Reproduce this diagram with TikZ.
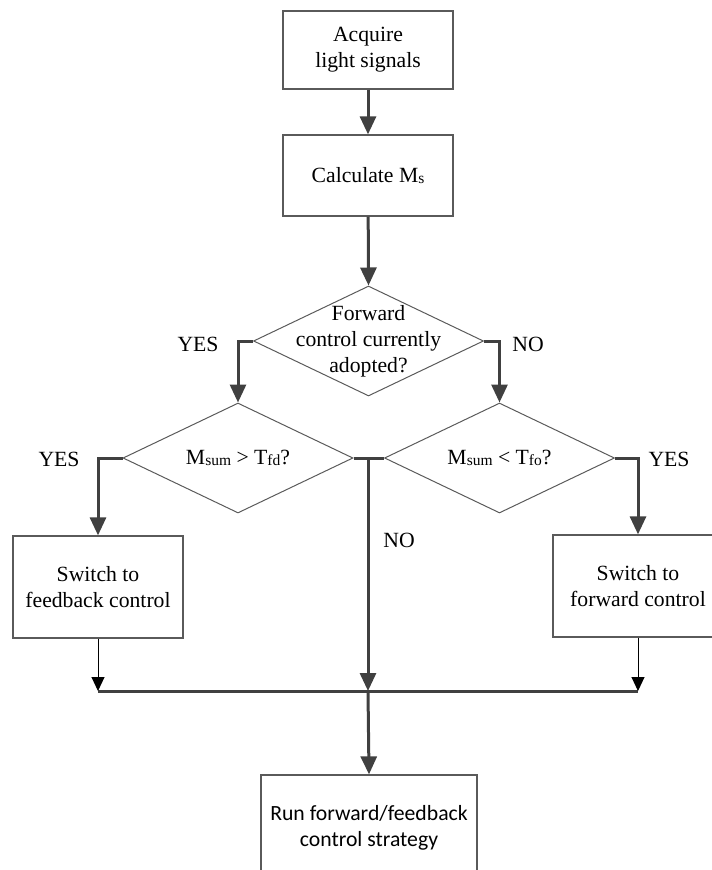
\documentclass[tikz,border=0pt]{standalone}
\usepackage{fontspec}
\setmainfont{Liberation Serif}
\newfontfamily\serifface{Liberation Serif}
\newfontfamily\uisans{Carlito}
\usetikzlibrary{arrows.meta,shapes.geometric}
\definecolor{flowgray}{HTML}{404040}
\definecolor{boxgray}{HTML}{5A5A5A}
% smaller letters set after a capital, as in M_sum or T_fd
\newcommand{\subtxt}[1]{\raisebox{-0.5pt}{\fontsize{15.5}{18}\selectfont #1}}
\begin{document}
\begin{tikzpicture}[x=1pt,y=-1pt,
  serif text/.style={font=\serifface\fontsize{21.7}{26}\selectfont},
  sans text/.style={font=\uisans\fontsize{21.7}{26}\selectfont},
  procbox/.style={draw=boxgray,line width=1.3pt,rectangle,minimum width=170pt,align=center,inner sep=0pt,serif text},
  decision/.style={draw=boxgray,line width=1pt,diamond,minimum width=230pt,minimum height=110pt,inner sep=0pt},
  flow/.style={draw=flowgray,line width=3pt,-{Triangle[length=18pt,width=16pt]}},
  bus/.style={draw=flowgray,line width=3pt},
  feed/.style={draw=black,line width=1pt,-{Triangle[length=14pt,width=13pt]}},
  tag/.style={inner sep=0pt,serif text}]
\useasboundingbox (0,0) rectangle (712,870);

% process steps
\node[procbox,minimum height=78pt] (acq) at (368,50) {Acquire\\light signals};
\node[procbox,minimum height=81pt] (calc) at (368,175.5) {Calculate M\subtxt{s}};

% decisions
\node[decision] (d1) at (368.5,341) {};
\node[tag,align=center] (d1t) at (368.5,341) {Forward\\control currently\\adopted?};
\node[decision] (d2) at (238,458) {};
\node[tag] (d2t) at (238,458) {M\subtxt{sum} > T\subtxt{fd}?};
\node[decision] (d3) at (499.5,458) {};
\node[tag] (d3t) at (499.5,458) {M\subtxt{sum} < T\subtxt{fo}?};

% switching actions
\node[procbox,minimum height=102pt] (fb) at (98,587) {Switch to\\feedback control};
\node[procbox,minimum height=102pt] (fw) at (638,586) {Switch to\\forward control};

% final step
\node[procbox,minimum width=216pt,minimum height=106pt,sans text] (run) at (369,828) {Run forward/feedback\\control strategy};

% junction points
\coordinate (nj) at (368,458);
\coordinate (mL) at (98,691);
\coordinate (mC) at (368,691);
\coordinate (mR) at (638,691);

% connectors
\draw[flow] (acq) -- (calc);
\draw[flow] (calc) -- (d1.north);
\draw[flow] (d1.west) -| (d2.north);
\draw[flow] (d1.east) -| (d3.north);
\draw[flow] (d2.west) -| (fb.north);
\draw[flow] (d3.east) -| (fw.north);
\draw[bus] (d2.east) -- (d3.west);
\draw[flow] (nj) -- (mC);
\draw[bus] (mL) -- (mR);
\draw[feed] (fb.south) -- (mL);
\draw[feed] (fw.south) -- (mR);
\draw[flow] (mC) -- (run.north);

% branch labels
\node[tag] (y1) at (198,344) {YES};
\node[tag] (n1) at (528,344) {NO};
\node[tag] (y2) at (59,459) {YES};
\node[tag] (y3) at (669,459) {YES};
\node[tag] (n2) at (399,540) {NO};
\end{tikzpicture}
\end{document}
